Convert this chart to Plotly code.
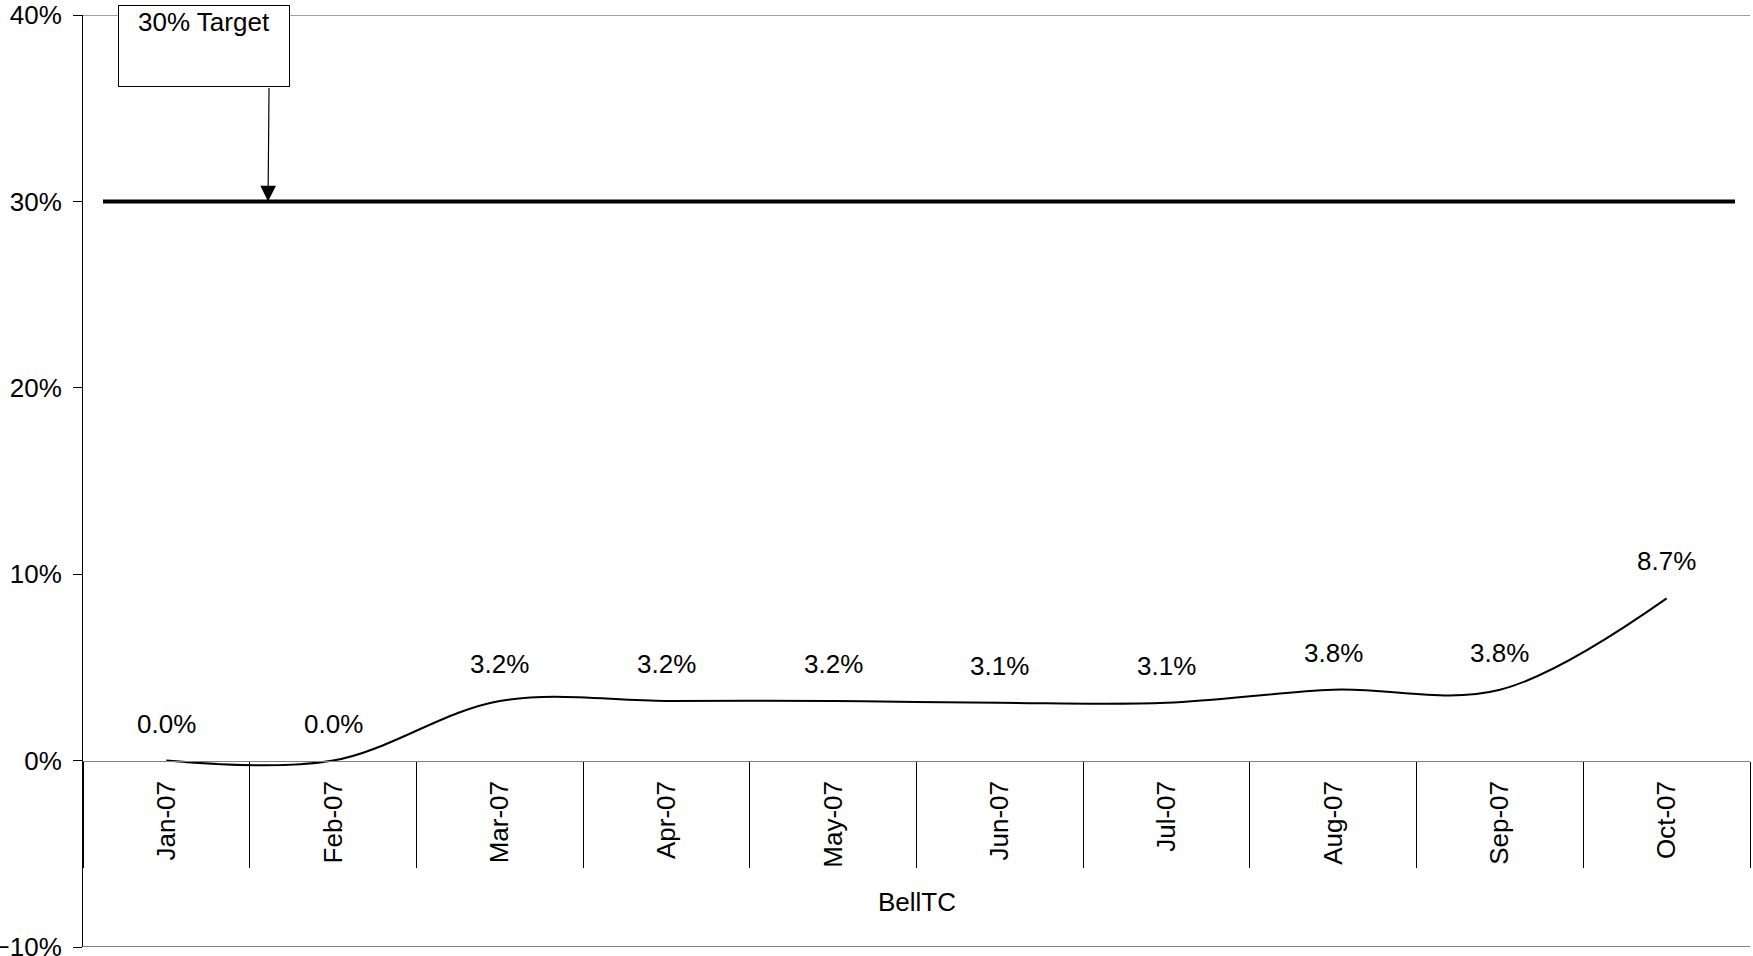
import plotly.graph_objects as go

months = ["Jan-07", "Feb-07", "Mar-07", "Apr-07", "May-07", "Jun-07",
          "Jul-07", "Aug-07", "Sep-07", "Oct-07"]
bell_tc = [0.000, 0.000, 0.032, 0.032, 0.032, 0.031, 0.031, 0.038, 0.038, 0.087]
target = 0.30
target_label = "30% Target"
x_title = "BellTC"
y_ticks = [-0.1, 0.0, 0.1, 0.2, 0.3, 0.4]

FONT = "Liberation Sans, Arial, sans-serif"
FS = 26

fig = go.Figure()

fig.add_trace(go.Scatter(
    x=months, y=bell_tc, mode="lines",
    line=dict(color="black", width=2, shape="spline", smoothing=1.0),
    hoverinfo="skip", showlegend=False, cliponaxis=False,
))
# invisible trace on the tick-only axis
fig.add_trace(go.Scatter(
    x=months, y=bell_tc, mode="lines", xaxis="x2",
    line=dict(color="rgba(0,0,0,0)", width=0),
    hoverinfo="skip", showlegend=False,
))

for m, v in zip(months, bell_tc):
    fig.add_annotation(
        x=m, y=v, xref="x", yref="y", text=f"{v:.1%}",
        showarrow=False, yshift=37,
        font=dict(family=FONT, size=FS, color="black"),
    )

# target line
fig.add_shape(type="line", xref="x", yref="y", x0=-0.38, x1=9.41,
              y0=target, y1=target, line=dict(color="black", width=4))

# top and bottom plot-area border lines
fig.add_shape(type="line", xref="paper", yref="y", x0=0, x1=1,
              y0=y_ticks[-1], y1=y_ticks[-1], line=dict(color="#808080", width=1.5))
fig.add_shape(type="line", xref="paper", yref="y", x0=0, x1=1,
              y0=y_ticks[0], y1=y_ticks[0], line=dict(color="#808080", width=2))

# target callout box
fig.add_annotation(
    x=0.0726, y=1.0107, xref="paper", yref="paper",
    xanchor="center", yanchor="top",
    text=target_label, showarrow=False,
    width=168, height=78, valign="top", align="center",
    bordercolor="black", borderwidth=1, borderpad=1, bgcolor="white",
    font=dict(family=FONT, size=FS, color="black"),
)
# arrow to target line
fig.add_annotation(
    x=0.61, y=target, xref="x", yref="y", text="",
    showarrow=True, ax=1, ay=-115, axref="pixel", ayref="pixel",
    arrowhead=2, arrowsize=2.6, arrowwidth=1.2, arrowcolor="black",
)

# x axis title
fig.add_annotation(
    x=0.5, y=-0.0756, xref="paper", yref="y", text=x_title,
    showarrow=False, font=dict(family=FONT, size=FS, color="black"),
)

ypos = (0 - y_ticks[0]) / (y_ticks[-1] - y_ticks[0])

fig.update_layout(
    width=1753, height=956,
    margin=dict(l=83, r=3, t=15, b=9, autoexpand=False),
    paper_bgcolor="white", plot_bgcolor="white",
    font=dict(family=FONT, size=FS, color="black"),
    xaxis=dict(
        type="category", categoryorder="array", categoryarray=months,
        range=[-0.5, len(months) - 0.5],
        anchor="free", position=ypos, automargin=False,
        showline=True, linecolor="#808080", linewidth=1,
        ticks="", tickangle=-90, ticklabelstandoff=9,
        showgrid=False, zeroline=False,
        tickfont=dict(family=FONT, size=FS, color="black"),
    ),
    xaxis2=dict(
        type="category", categoryorder="array", categoryarray=months,
        range=[-0.5, len(months) - 0.5],
        overlaying="x", anchor="free", position=ypos, automargin=False,
        tickson="boundaries", ticks="outside", ticklen=106,
        tickcolor="black", tickwidth=1,
        showticklabels=False, showline=False, showgrid=False, zeroline=False,
    ),
    yaxis=dict(
        range=[y_ticks[0], y_ticks[-1]], tickvals=y_ticks, tickformat=".0%",
        automargin=False, ticklabeloverflow="allow", ticklabelstandoff=6,
        showline=True, linecolor="black", linewidth=1,
        ticks="outside", ticklen=9, tickcolor="black",
        showgrid=False, zeroline=False,
        tickfont=dict(family=FONT, size=FS, color="black"),
    ),
)

fig.write_html(
    "out.html",
    config={"displayModeBar": False},
    post_script="document.body.style.margin='0px';document.body.style.overflow='hidden';",
)
